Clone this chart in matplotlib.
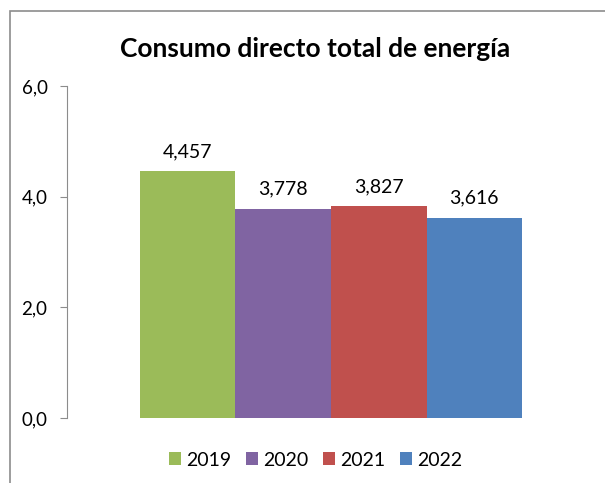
import matplotlib.pyplot as plt
from matplotlib.patches import Rectangle

plt.rcParams['font.family'] = ['Lato', 'DejaVu Sans']

years = ['2019', '2020', '2021', '2022']
values = [4.457, 3.778, 3.827, 3.616]
labels = ['4,457', '3,778', '3,827', '3,616']
colors = ['#9BBB59', '#8064A2', '#C0504D', '#4F81BD']

fig = plt.figure(figsize=(6.05, 4.83), dpi=100)
ax = fig.add_axes([0.1107, 0.1346, 0.8728, 0.6874])

# outer chart border (only left and top show in the crop)
fig.patches.append(Rectangle((10 / 605, -0.1), 1.2, 1 - 11 / 483 + 0.1,
                             transform=fig.transFigure, fill=False,
                             edgecolor='#8c8c8c', linewidth=1.2))

w = 0.181
for i, (yr, v, lab, c) in enumerate(zip(years, values, labels, colors)):
    x = (i - 1.5) * w
    ax.bar(x, v, width=w, color=c, label=yr)
    ax.text(x, v + 0.2, lab, ha='center', va='bottom', fontsize=14)

ax.set_xlim(-0.5, 0.5)
ax.set_ylim(0, 6)
ax.set_yticks([0, 2, 4, 6])
ax.set_yticklabels(['0,0', '2,0', '4,0', '6,0'], fontsize=13.5)
ax.set_xticks([])
for s in ['top', 'right', 'bottom']:
    ax.spines[s].set_visible(False)
ax.spines['left'].set_color('#8c8c8c')
ax.tick_params(axis='y', colors='#8c8c8c', labelcolor='black', length=5, pad=9)

fig.text(0.521, 1 - 57 / 483, 'Consumo directo total de energía', ha='center',
         va='baseline', fontsize=19, fontweight='bold')

fig.legend(loc='center', bbox_to_anchor=(0.522, 1 - 460 / 483), ncol=4,
           frameon=False, fontsize=14, handlelength=0.62, handleheight=0.65,
           handletextpad=0.26, columnspacing=0.75)

fig.savefig('out.png', dpi=100)
